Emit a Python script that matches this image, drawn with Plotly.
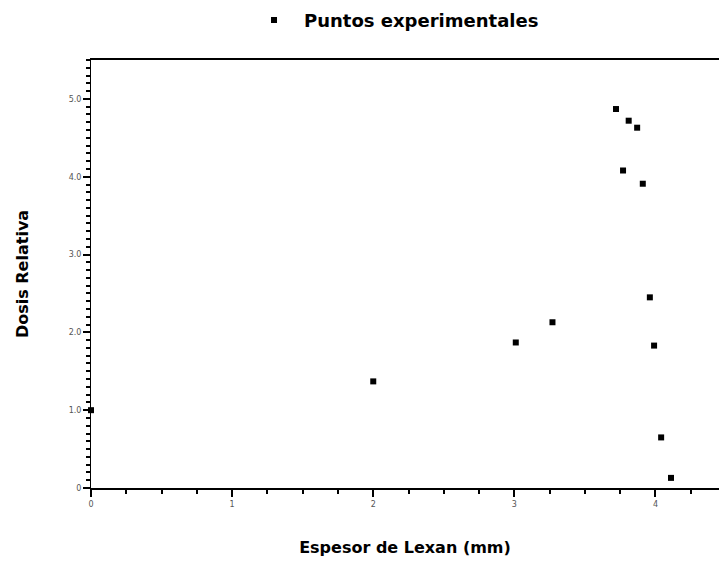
import plotly.graph_objects as go

# Lexan thickness (mm) and relative dose measurements
espesor = [0.0, 2.0, 3.01, 3.27, 3.72, 3.77, 3.81, 3.87, 3.91, 3.96, 3.99, 4.04, 4.11]
dosis = [1.0, 1.37, 1.87, 2.13, 4.87, 4.08, 4.72, 4.63, 3.91, 2.45, 1.83, 0.65, 0.13]

x_ticks = [0, 1, 2, 3, 4]
x_labels = ["0", "1", "2", "3", "4"]
y_ticks = [0, 1, 2, 3, 4, 5]
y_labels = ["0", "1.0", "2.0", "3.0", "4.0", "5.0"]

title_font = dict(family="DejaVu Sans", size=16, weight="bold", color="black")
legend_font = dict(family="DejaVu Sans", size=18, weight="bold", color="black")

fig = go.Figure()
fig.add_trace(go.Scatter(
    x=espesor, y=dosis, mode="markers",
    name="Puntos experimentales",
    cliponaxis=False,
    marker=dict(symbol="square", size=6, color="black"),
))

fig.update_layout(
    width=719, height=561,
    margin=dict(l=91, r=0, t=60, b=73),
    paper_bgcolor="white", plot_bgcolor="white",
    font=dict(family="DejaVu Sans", color="black"),
    showlegend=True,
    legend=dict(orientation="h", xref="container", x=0.548, xanchor="center",
                yref="container", y=0.997, yanchor="top",
                itemwidth=50, font=legend_font),
    xaxis=dict(
        range=[0, 4.45], tickvals=x_ticks, ticktext=x_labels,
        ticks="outside", ticklen=7, tickwidth=2, tickcolor="black",
        minor=dict(dtick=0.25, ticks="outside", ticklen=4, tickwidth=2, tickcolor="black"),
        showline=True, linecolor="black", linewidth=2, mirror=True,
        showgrid=False, zeroline=False,
        tickfont=dict(size=8, color="#555"),
        title=dict(text="Espesor de Lexan (mm)", font=title_font, standoff=34),
    ),
    yaxis=dict(
        range=[0, 5.5], tickvals=y_ticks, ticktext=y_labels,
        ticks="outside", ticklen=7, tickwidth=2, tickcolor="black",
        minor=dict(dtick=0.1, ticks="outside", ticklen=4, tickwidth=2, tickcolor="black"),
        showline=True, linecolor="black", linewidth=1,
        showgrid=False, zeroline=False,
        tickfont=dict(size=8, color="#555"),
        title=dict(text="Dosis Relativa", font=title_font, standoff=36),
    ),
)

fig.write_html("out.html")
